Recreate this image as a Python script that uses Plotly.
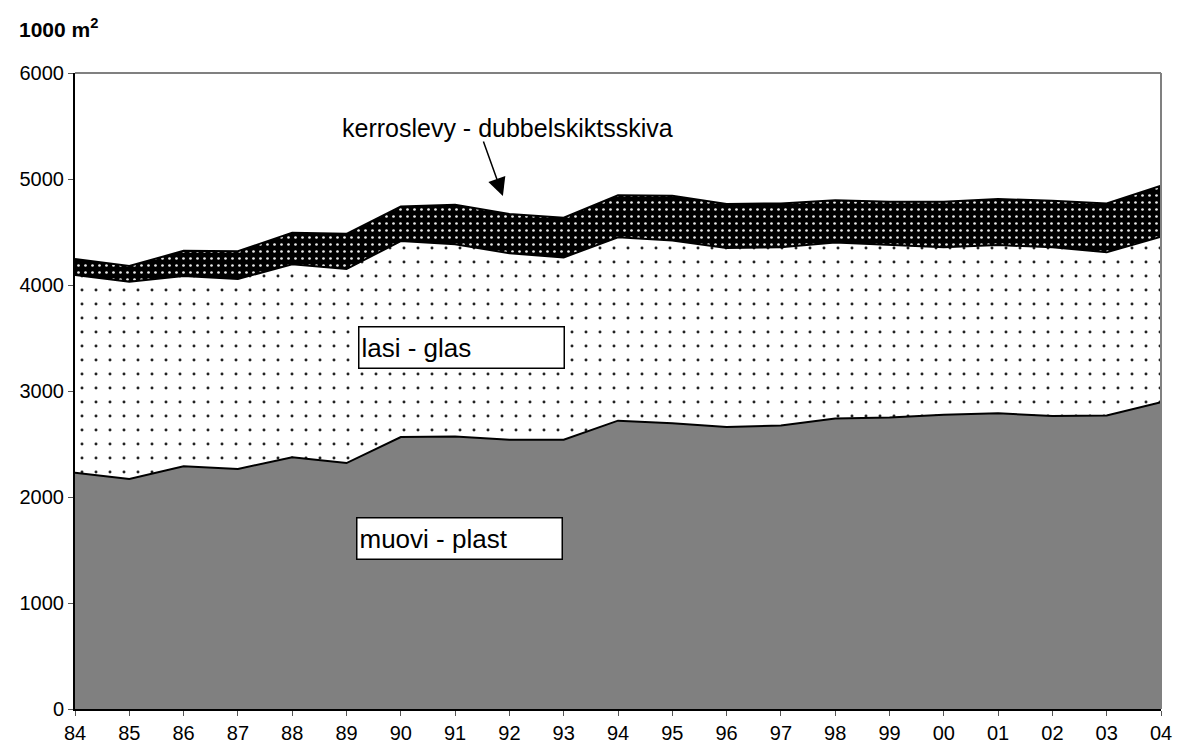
import plotly.graph_objects as go

years = ["84", "85", "86", "87", "88", "89", "90", "91", "92", "93", "94",
         "95", "96", "97", "98", "99", "00", "01", "02", "03", "04"]
muovi = [2230, 2170, 2290, 2265, 2375, 2320, 2565, 2570, 2540, 2540, 2720,
         2695, 2660, 2675, 2740, 2750, 2775, 2790, 2765, 2770, 2895]
lasi = [1865, 1860, 1795, 1792, 1820, 1830, 1850, 1815, 1760, 1720, 1730,
        1725, 1690, 1680, 1660, 1627, 1580, 1587, 1590, 1538, 1560]
kerroslevy = [150, 150, 237, 261, 299, 333, 325, 372, 370, 375, 396,
              423, 414, 415, 400, 409, 431, 434, 440, 462, 482]

xs = list(range(len(years)))
fig = go.Figure()
fig.add_trace(go.Scatter(x=xs, y=muovi, stackgroup="a", mode="lines",
                         line=dict(color="black", width=2),
                         fillcolor="#808080", name="muovi - plast"))
fig.add_trace(go.Scatter(x=xs, y=lasi, stackgroup="a", mode="lines",
                         line=dict(color="black", width=2),
                         fillcolor="white",
                         fillpattern=dict(shape=".", bgcolor="white", fgcolor="#222222",
                                          size=14, solidity=0.035, fillmode="replace"),
                         name="lasi - glas"))
fig.add_trace(go.Scatter(x=xs, y=kerroslevy, stackgroup="a", mode="lines",
                         line=dict(color="black", width=2),
                         fillcolor="black",
                         fillpattern=dict(shape=".", bgcolor="black", fgcolor="#e8e8e8",
                                          size=7, solidity=0.12, fillmode="replace"),
                         name="kerroslevy - dubbelskiktsskiva"))

font = "Liberation Sans, Arial, sans-serif"
fig.update_layout(
    width=1177, height=751,
    margin=dict(l=75, r=16, t=73, b=42, autoexpand=False),
    plot_bgcolor="white", paper_bgcolor="white",
    showlegend=False,
    font=dict(family=font, size=20, color="black"),
    xaxis=dict(range=[0, 20], tickvals=xs, ticktext=years, showgrid=False,
               zeroline=False, showline=True, linecolor="black", linewidth=2,
               ticks="outside", ticklen=5, tickcolor="#555555",
               tickfont=dict(size=20), automargin=False,
               ticklabeloverflow="allow"),
    yaxis=dict(range=[0, 6000], dtick=1000, showgrid=False, zeroline=False,
               showline=True, linecolor="black", linewidth=2,
               ticks="outside", ticklen=5, tickcolor="#555555",
               tickfont=dict(size=20), automargin=False),
)
fig.add_shape(type="line", xref="paper", yref="paper", x0=0, x1=1, y0=1, y1=1,
              line=dict(color="#808080", width=2))
fig.add_shape(type="line", xref="paper", yref="paper", x0=1, x1=1, y0=0, y1=1,
              line=dict(color="#808080", width=2))

fig.add_annotation(xref="paper", yref="paper", x=-0.053, y=1.071, xanchor="left",
                   yanchor="middle", showarrow=False,
                   text="<b>1000 m<sup>2</sup></b>", font=dict(size=21))
fig.add_annotation(x=7.11, y=3406, text="lasi - glas", showarrow=False,
                   width=200, height=36, align="left", bgcolor="white",
                   bordercolor="black", borderwidth=1.5, borderpad=2,
                   font=dict(size=26))
fig.add_annotation(x=7.09, y=1608, text="muovi - plast", showarrow=False,
                   width=200, height=36, align="left", bgcolor="white",
                   bordercolor="black", borderwidth=1.5, borderpad=2,
                   font=dict(size=26))
fig.add_annotation(x=7.97, y=5481, text="kerroslevy - dubbelskiktsskiva",
                   showarrow=False, font=dict(size=25))
fig.add_annotation(x=7.88, y=4840, text="", showarrow=True, ax=-20, ay=-56,
                   arrowhead=2, arrowsize=2.4, arrowwidth=1.5, arrowcolor="black")

fig.write_html("out.html", post_script="document.body.style.margin='0';",
               config={"displayModeBar": False})
